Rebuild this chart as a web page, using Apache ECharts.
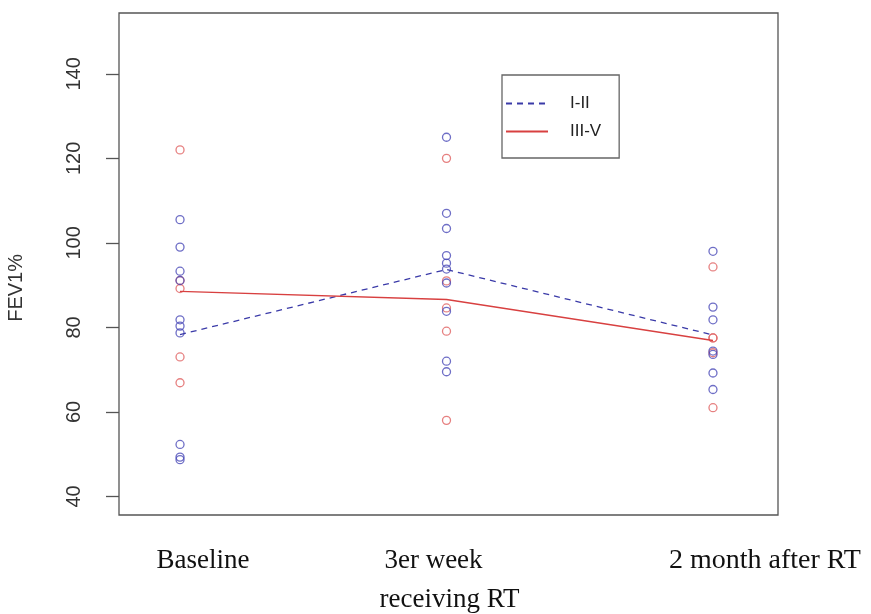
<!DOCTYPE html>
<html>
<head>
<meta charset="utf-8">
<script src="https://cdn.jsdelivr.net/npm/echarts@6/dist/echarts.min.js"></script>
<style>html,body{margin:0;padding:0;background:#fff;}#c{width:871px;height:614px;}</style>
</head>
<body>
<div id="c"></div>
<script>
// Time points (x positions 1,2,3)
const categories = ['Baseline', '3er week\nreceiving RT', '2 month after RT'];
const timeIndex = [1, 2, 3];
const yTicks = [40, 60, 80, 100, 120, 140];

// Individual FEV1% values, group I-II (blue)
const grpI_baseline = [105.5, 99, 93.3, 91.1, 81.8, 80.3, 78.7, 52.3, 49.3, 48.7];
const grpI_week3 = [125, 107, 103.4, 97, 95.2, 93.8, 90.5, 83.8, 72, 69.5];
const grpI_month2 = [98, 84.8, 81.8, 74.4, 73.6, 69.2, 65.3];

// Individual FEV1% values, group III-V (red)
const grpIII_baseline = [122, 91.1, 89.2, 73, 66.9];
const grpIII_week3 = [120, 91, 84.6, 79.1, 58];
const grpIII_month2 = [94.3, 77.5, 77.5, 74.0, 61.0];

// Group mean lines
const meanI = [78.3, 93.7, 78.2];
const meanIII = [88.5, 86.6, 76.9];

function pts(arrs) {
  const out = [];
  arrs.forEach((a, i) => a.forEach(v => out.push([timeIndex[i], v])));
  return out;
}
const bluePts = pts([grpI_baseline, grpI_week3, grpI_month2]);
const redPts = pts([grpIII_baseline, grpIII_week3, grpIII_month2]);

const BLUE_PT = '#4a4ab8';
const RED_PT = '#e06060';
const BLUE_LN = '#3a3aa8';
const RED_LN = '#d84040';
const AXIS = '#555';

const chart = echarts.init(document.getElementById('c'));
chart.setOption({
  animation: false,
  backgroundColor: '#fff',
  grid: { left: 119, right: 93, top: 13, bottom: 99, show: true, borderColor: AXIS, borderWidth: 1.3,
          backgroundColor: 'transparent', outerBoundsMode: 'none', containLabel: false },
  xAxis: {
    type: 'value', min: 0.771, max: 3.244,
    axisLine: { show: false }, axisTick: { show: false }, splitLine: { show: false },
    axisLabel: {
      customValues: timeIndex,
      margin: 26,
      fontFamily: 'Liberation Serif', fontSize: 27, color: '#111', lineHeight: 39,
      formatter: function (v) {
        const i = timeIndex.indexOf(v);
        if (i === 0) return '{a|' + categories[0] + '}';
        if (i === 1) { const p = categories[1].split('\n'); return '{b|' + p[0] + '}\n{c|' + p[1] + '}'; }
        if (i === 2) return '{d|' + categories[2] + '}';
        return '';
      },
      rich: {
        a: { fontFamily: 'Liberation Serif', fontSize: 27, color: '#111', padding: [0, 0, 0, 46], lineHeight: 39 },
        b: { fontFamily: 'Liberation Serif', fontSize: 27, color: '#111', padding: [0, 26, 0, 0], lineHeight: 39 },
        c: { fontFamily: 'Liberation Serif', fontSize: 27, color: '#111', padding: [0, 0, 0, 6], lineHeight: 39 },
        d: { fontFamily: 'Liberation Serif', fontSize: 28, color: '#111', padding: [0, 0, 0, 104], lineHeight: 39 }
      }
    }
  },
  yAxis: {
    type: 'value', min: 35.6, max: 154.4,
    axisLine: { show: false }, splitLine: { show: false },
    axisTick: { show: true, customValues: yTicks, length: 13, inside: false, lineStyle: { color: AXIS, width: 1.3 } },
    axisLabel: { customValues: yTicks, rotate: 90, margin: 35, fontFamily: 'Liberation Sans', fontSize: 20, color: '#333' }
  },
  legend: {
    orient: 'vertical', left: 502, top: 75,
    padding: [20, 18, 18, 3], itemGap: 11, itemWidth: 42, itemHeight: 14,
    borderColor: '#666', borderWidth: 1.3, borderRadius: 0,
    itemStyle: { opacity: 0 },
    textStyle: { fontFamily: 'Liberation Sans', fontSize: 17, color: '#222', padding: [0, 0, 0, 17] },
    data: ['I-II', 'III-V']
  },
  graphic: [{
    type: 'text', left: 6, top: 254, rotation: Math.PI / 2,
    style: { text: 'FEV1%', fontFamily: 'Liberation Sans', fontSize: 20, fill: '#333' }
  }],
  series: [
    { name: 'III-V pts', type: 'scatter', data: redPts, symbol: 'circle', symbolSize: 8,
      itemStyle: { color: 'rgba(255,255,255,0)', borderColor: RED_PT, borderWidth: 1.3 } },
    { name: 'I-II pts', type: 'scatter', data: bluePts, symbol: 'circle', symbolSize: 8,
      itemStyle: { color: 'rgba(255,255,255,0)', borderColor: BLUE_PT, borderWidth: 1.3 } },
    { name: 'I-II', type: 'line', data: timeIndex.map((x, i) => [x, meanI[i]]), symbol: 'none',
      lineStyle: { color: BLUE_LN, width: 1.3, type: [6, 5] }, itemStyle: { color: BLUE_LN } },
    { name: 'III-V', type: 'line', data: timeIndex.map((x, i) => [x, meanIII[i]]), symbol: 'none',
      lineStyle: { color: RED_LN, width: 1.3 }, itemStyle: { color: RED_LN } }
  ]
});
</script>
</body>
</html>
